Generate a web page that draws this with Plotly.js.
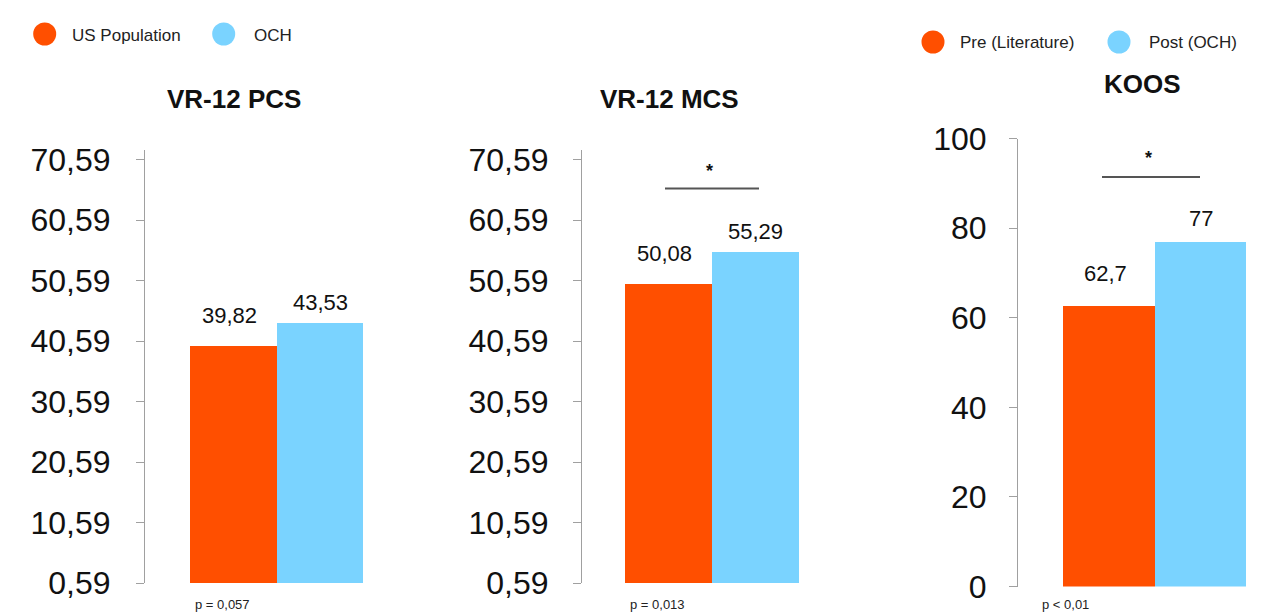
<!DOCTYPE html>
<html>
<head>
<meta charset="utf-8">
<script src="https://cdn.plot.ly/plotly-3.0.1.min.js"></script>
<style>html,body{margin:0;padding:0;background:#fff;}#chart{width:1268px;height:613px;}</style>
</head>
<body>
<div id="chart"></div>
<script>
// ---- data ----
const vrCategories = ['US Population', 'OCH'];
const pcsValues = [39.82, 43.53];
const mcsValues = [50.08, 55.29];
const koosCategories = ['Pre (Literature)', 'Post (OCH)'];
const koosValues = [62.7, 77];
const vrTickVals = [0.59, 10.59, 20.59, 30.59, 40.59, 50.59, 60.59, 70.59];
const koosTickVals = [0, 20, 40, 60, 80, 100];
const chartTitles = ['VR-12 PCS', 'VR-12 MCS', 'KOOS'];
const pValueTexts = ['p = 0,057', 'p = 0,013', 'p < 0,01'];
const significance = ['', '*', '*'];

// ---- style ----
const W = 1268, H = 613;
const px = x => x / W;
const py = y => 1 - y / H;
const ORANGE = '#FF4F00';
const BLUE = '#7AD3FF';
const FONT = 'Liberation Sans, Arial, Helvetica, sans-serif';
const TXT = '#111111';
const AX = '#a0a0a0';
const fmt = v => String(v).replace('.', ',');

// pixel geometry of each panel
const panels = [
  {axis: 145, c0: 233.7, bw: 86.5, right: 410, yb: 583, yt: 150, range: [0.59, 0.59 + (583 - 150) / 6.05], ticks: vrTickVals, fmt: '.2f', cats: vrCategories, vals: pcsValues, standoff: 19},
  {axis: 582, c0: 668, bw: 87, right: 850, yb: 583, yt: 150, range: [0.59, 0.59 + (583 - 150) / 6.05], ticks: vrTickVals, fmt: '.2f', cats: vrCategories, vals: mcsValues, standoff: 18},
  {axis: 1018, c0: 1109, bw: 91.5, right: 1266, yb: 586.5, yt: 138.5, range: [0, 100], ticks: koosTickVals, fmt: '', cats: koosCategories, vals: koosValues, standoff: 16}
];

const data = [];
const layout = {
  width: W, height: H,
  margin: {l: 0, r: 0, t: 0, b: 0},
  paper_bgcolor: '#fff', plot_bgcolor: '#fff',
  separators: ',.',
  barmode: 'overlay', bargap: 0,
  showlegend: false,
  font: {family: FONT, color: TXT},
  annotations: [], shapes: []
};

const colors = [ORANGE, BLUE];
const labelShiftY = [30, 21];
const labelShiftX = [-4, 0];

panels.forEach((p, i) => {
  const n = i === 0 ? '' : String(i + 1);
  const xa = 'x' + n, ya = 'y' + n;
  p.cats.forEach((cat, j) => {
    data.push({
      type: 'bar', x: [cat], y: [p.vals[j]], name: cat,
      xaxis: xa, yaxis: ya,
      marker: {color: colors[j], line: {width: 0}},
      hoverinfo: 'x+y'
    });
    layout.annotations.push({
      xref: xa, yref: ya, x: cat, y: p.vals[j],
      text: fmt(p.vals[j]), showarrow: false,
      yanchor: 'middle', xanchor: 'center',
      yshift: labelShiftY[j] + (i === 2 ? 2 : 0), xshift: labelShiftX[j],
      font: {size: 22, family: FONT, color: TXT}
    });
  });
  layout['xaxis' + n] = {
    domain: [px(p.axis), px(p.right)],
    range: [(p.axis - p.c0) / p.bw, (p.right - p.c0) / p.bw],
    type: 'category', categoryarray: p.cats,
    anchor: ya, visible: false, fixedrange: true
  };
  layout['yaxis' + n] = {
    domain: [py(p.yb), py(p.yt)],
    range: p.range, anchor: xa,
    tickvals: p.ticks, tickformat: p.fmt,
    ticks: 'outside', ticklen: 8, tickcolor: AX, tickwidth: 1,
    showline: true, linecolor: AX, linewidth: 1,
    showgrid: false, zeroline: false,
    ticklabelstandoff: p.standoff,
    tickfont: {size: 32, family: FONT, color: TXT},
    fixedrange: true
  };
});

// titles
const titlePos = [[234, 99], [669, 99], [1142, 84]];
chartTitles.forEach((t, i) => {
  layout.annotations.push({
    xref: 'paper', yref: 'paper', x: px(titlePos[i][0]), y: py(titlePos[i][1]),
    xanchor: 'center', yanchor: 'middle', showarrow: false,
    text: '<b>' + t + '</b>', font: {size: 26, family: FONT, color: TXT}
  });
});

// p-values
const pPos = [[193, 604], [628, 604], [1040, 604]];
pValueTexts.forEach((t, i) => {
  layout.annotations.push({
    xref: 'paper', yref: 'paper', x: px(pPos[i][0]), y: py(pPos[i][1]),
    xanchor: 'left', yanchor: 'middle', showarrow: false,
    text: t, font: {size: 13, family: FONT, color: '#222'}
  });
});

// significance bars
const sigPos = [null, {x0: 665, x1: 759, y: 188.5, sx: 709, sy: 171}, {x0: 1102, x1: 1200, y: 177, sx: 1148, sy: 158}];
significance.forEach((s, i) => {
  if (!s) return;
  const g = sigPos[i];
  layout.shapes.push({type: 'line', xref: 'paper', yref: 'paper', x0: px(g.x0), x1: px(g.x1), y0: py(g.y), y1: py(g.y), line: {color: '#555', width: 2}});
  layout.annotations.push({xref: 'paper', yref: 'paper', x: px(g.sx), y: py(g.sy), xanchor: 'center', yanchor: 'middle', showarrow: false, text: '<b>' + s + '</b>', font: {size: 18, family: FONT, color: TXT}});
});

// legends (circle markers + text)
const legendItems = [
  {label: vrCategories[0], color: ORANGE, cx: 44.7, cy: 34, tx: 70, ty: 36},
  {label: vrCategories[1], color: BLUE, cx: 223.7, cy: 34, tx: 252, ty: 36},
  {label: koosCategories[0], color: ORANGE, cx: 933, cy: 42, tx: 958, ty: 42},
  {label: koosCategories[1], color: BLUE, cx: 1119, cy: 42, tx: 1147, ty: 42}
];
legendItems.forEach(it => {
  const r = 11.5;
  layout.shapes.push({type: 'circle', xref: 'paper', yref: 'paper', x0: px(it.cx - r), x1: px(it.cx + r), y0: py(it.cy + r), y1: py(it.cy - r), fillcolor: it.color, line: {width: 0}});
  layout.annotations.push({xref: 'paper', yref: 'paper', x: px(it.tx), y: py(it.ty), xanchor: 'left', yanchor: 'middle', showarrow: false, text: it.label, font: {size: 17, family: FONT, color: '#222'}});
});

Plotly.newPlot('chart', data, layout, {displayModeBar: false, staticPlot: true});
</script>
</body>
</html>
